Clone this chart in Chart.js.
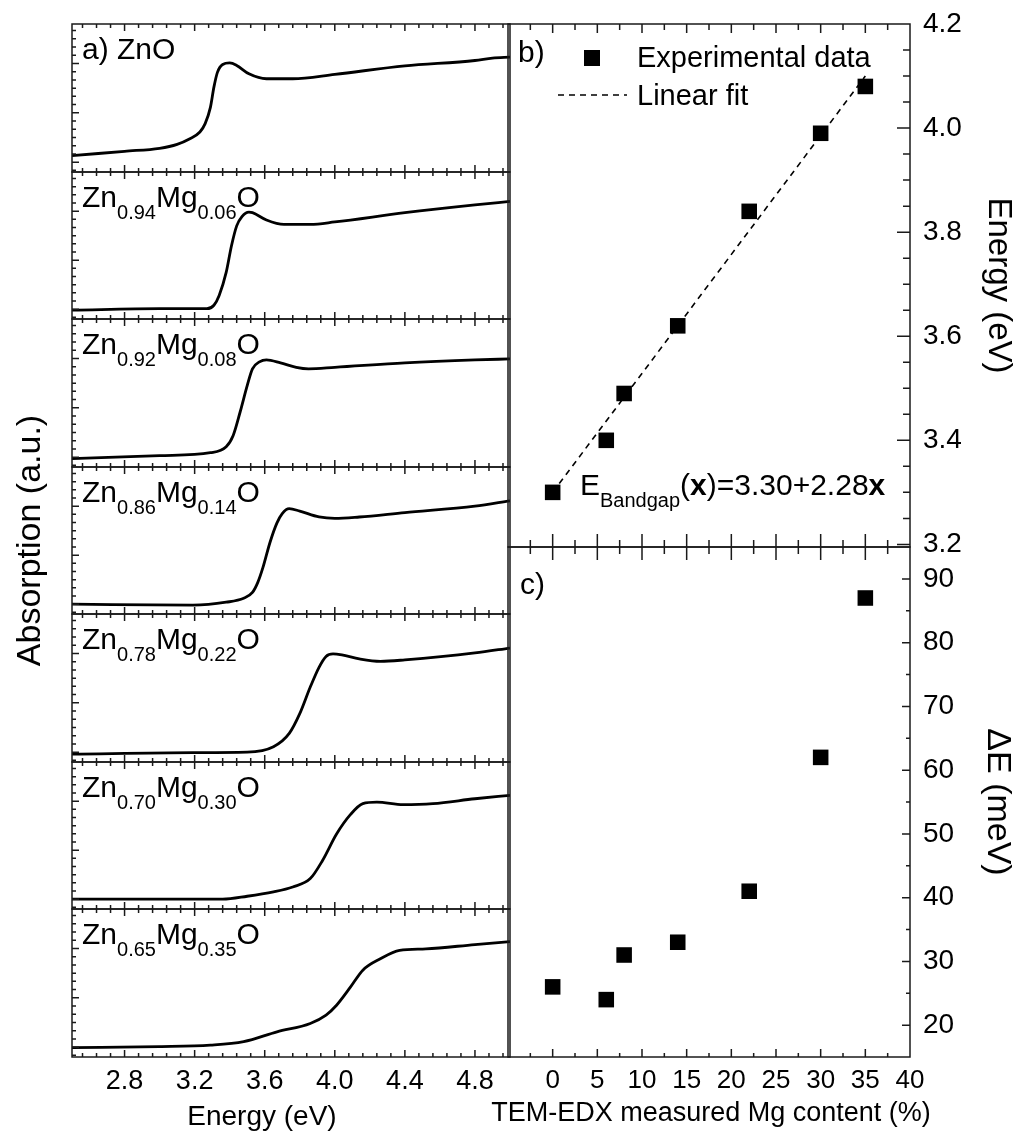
<!DOCTYPE html>
<html>
<head>
<meta charset="utf-8">
<script src="https://cdn.jsdelivr.net/npm/chart.js@4.4.1/dist/chart.umd.min.js"></script>
<style>
  html, body { margin: 0; padding: 0; background: #fff; }
  #wrap { position: relative; width: 1023px; height: 1133px; overflow: hidden; }
  #wrap canvas { position: absolute; }
</style>
</head>
<body>
<div id="wrap"></div>
<script>
// a) absorption spectra: photon energy (eV) and absorption (a.u., one major tick = 1)
const znoE  = [2.50, 2.80, 3.00, 3.10, 3.17, 3.23, 3.26, 3.29, 3.31, 3.33, 3.36, 3.40, 3.44, 3.51, 3.61, 3.76, 4.00, 4.40, 4.80, 4.90, 5.00];
const znoA  = [0.13, 0.22, 0.28, 0.36, 0.47, 0.61, 0.78, 1.11, 1.52, 1.82, 1.98, 2.01, 1.96, 1.79, 1.69, 1.69, 1.78, 1.95, 2.06, 2.11, 2.13];
const zn94E = [2.50, 3.00, 3.27, 3.31, 3.34, 3.38, 3.41, 3.44, 3.47, 3.51, 3.53, 3.61, 3.71, 3.86, 4.00, 4.40, 4.80, 5.00];
const zn94A = [-0.02, 0.01, 0.01, 0.08, 0.28, 0.75, 1.29, 1.70, 1.89, 1.98, 1.97, 1.82, 1.73, 1.73, 1.78, 1.97, 2.13, 2.20];
const zn92E = [2.50, 3.00, 3.29, 3.38, 3.42, 3.46, 3.50, 3.53, 3.57, 3.61, 3.69, 3.78, 3.85, 4.00, 4.40, 4.80, 5.00];
const zn92A = [-0.03, 0.03, 0.09, 0.21, 0.44, 0.92, 1.45, 1.79, 1.93, 1.97, 1.91, 1.82, 1.79, 1.82, 1.91, 1.97, 1.99];
const zn86E = [2.50, 3.19, 3.38, 3.48, 3.53, 3.56, 3.59, 3.63, 3.67, 3.70, 3.74, 3.80, 3.91, 4.00, 4.14, 4.40, 4.80, 5.00];
const zn86A = [0.00, -0.02, 0.04, 0.12, 0.24, 0.44, 0.75, 1.26, 1.66, 1.85, 1.95, 1.90, 1.78, 1.75, 1.78, 1.87, 2.00, 2.11];
const zn78E = [2.50, 3.19, 3.50, 3.65, 3.74, 3.80, 3.86, 3.91, 3.95, 3.99, 4.04, 4.14, 4.26, 4.40, 4.80, 5.00];
const zn78A = [-0.04, -0.01, 0.00, 0.11, 0.38, 0.78, 1.32, 1.72, 1.94, 1.99, 1.97, 1.89, 1.84, 1.87, 2.01, 2.11];
const zn70E = [2.50, 3.36, 3.50, 3.65, 3.76, 3.86, 3.93, 4.01, 4.09, 4.16, 4.24, 4.39, 4.56, 4.80, 5.00];
const zn70A = [0.00, 0.00, 0.06, 0.15, 0.25, 0.42, 0.79, 1.33, 1.73, 1.95, 1.98, 1.93, 1.95, 2.05, 2.12];
const zn65E = [2.50, 3.00, 3.29, 3.48, 3.67, 3.86, 3.95, 4.01, 4.09, 4.16, 4.26, 4.37, 4.52, 4.80, 5.00];
const zn65A = [-0.01, 0.01, 0.04, 0.11, 0.31, 0.48, 0.65, 0.85, 1.22, 1.56, 1.79, 1.96, 1.99, 2.08, 2.14];

// sample names: [text, 0 = normal | 1 = subscript]
const sampleNames = [
  [['a) ZnO', 0]],
  [['Zn', 0], ['0.94', 1], ['Mg', 0], ['0.06', 1], ['O', 0]],
  [['Zn', 0], ['0.92', 1], ['Mg', 0], ['0.08', 1], ['O', 0]],
  [['Zn', 0], ['0.86', 1], ['Mg', 0], ['0.14', 1], ['O', 0]],
  [['Zn', 0], ['0.78', 1], ['Mg', 0], ['0.22', 1], ['O', 0]],
  [['Zn', 0], ['0.70', 1], ['Mg', 0], ['0.30', 1], ['O', 0]],
  [['Zn', 0], ['0.65', 1], ['Mg', 0], ['0.35', 1], ['O', 0]]
];

// b) and c) versus TEM-EDX Mg content (%)
const mgContent = [0, 6, 8, 14, 22, 30, 35];
const bandgap   = [3.30, 3.40, 3.49, 3.62, 3.84, 3.99, 4.08];
const fitMg     = [0, 35];
const fitGap    = [3.30, 4.10];
const deltaE    = [26, 24, 31, 33, 41, 62, 87];

// tick values
const energyTicks = [2.8, 3.2, 3.6, 4.0, 4.4, 4.8];
const absTicks    = [0, 1, 2];
const mgTicks     = [0, 5, 10, 15, 20, 25, 30, 35, 40];
const gapTicks    = [3.2, 3.4, 3.6, 3.8, 4.0, 4.2];
const deltaTicks  = [20, 30, 40, 50, 60, 70, 80, 90];

const FONT = '"Liberation Sans", Arial, Helvetica, sans-serif';
Chart.defaults.font.family = FONT;
Chart.defaults.color = '#000';

const wrap = document.getElementById('wrap');
function makeCanvas(left, top, w, h) {
  const c = document.createElement('canvas');
  c.width = w; c.height = h;
  c.style.left = left + 'px'; c.style.top = top + 'px';
  c.style.width = w + 'px'; c.style.height = h + 'px';
  wrap.appendChild(c);
  return c;
}

function tickValues(scale, sub) {
  const majors = scale.ticks.map(t => t.value);
  if (majors.length < 2) return [];
  const step = (majors[1] - majors[0]) / sub;
  const k0 = Math.ceil((scale.min - majors[0]) / step - 1e-6);
  const k1 = Math.floor((scale.max - majors[0]) / step + 1e-6);
  const out = [];
  for (let k = k0; k <= k1; k++) {
    out.push({ v: majors[0] + k * step, major: ((k % sub) + sub) % sub === 0 });
  }
  return out;
}

function drawParts(ctx, t, ox, oy) {
  const fontFor = s => (s === 2 ? 'bold ' : '') + (s === 1 ? t.sub : t.size) + 'px ' + FONT;
  let w = 0;
  t.parts.forEach(([txt, s]) => { ctx.font = fontFor(s); w += ctx.measureText(txt).width; });
  let x = t.x - ox - (t.align === 'center' ? w / 2 : 0);
  const y = t.y - oy;
  ctx.textAlign = 'left';
  ctx.textBaseline = t.baseline || 'alphabetic';
  t.parts.forEach(([txt, s]) => {
    ctx.font = fontFor(s);
    ctx.fillText(txt, x, y + (s === 1 ? t.drop : 0));
    x += ctx.measureText(txt).width;
  });
}

// frame, inward ticks on chosen sides, in-plot texts and legend
const frameTicks = {
  id: 'frameTicks',
  afterDatasetsDraw(chart, args, o) {
    const { ctx, chartArea: a } = chart;
    const x = chart.scales.x, y = chart.scales.y;
    ctx.save();
    ctx.strokeStyle = '#1a1a1a';
    ctx.lineWidth = 1.5;
    ctx.strokeRect(a.left, a.top, a.right - a.left, a.bottom - a.top);
    ctx.beginPath();
    tickValues(x, o.xSub).forEach(t => {
      const px = x.getPixelForValue(t.v);
      if (px < a.left + 1 || px > a.right - 1) return;
      if (o.sides.includes('t')) { const l = t.major ? o.topMajor : o.topMinor; ctx.moveTo(px, a.top); ctx.lineTo(px, a.top + l); }
      if (o.sides.includes('b')) { const l = t.major ? o.major : o.minor; ctx.moveTo(px, a.bottom); ctx.lineTo(px, a.bottom - l); }
    });
    tickValues(y, o.ySub).forEach(t => {
      const py = y.getPixelForValue(t.v);
      if (py < a.top + 1 || py > a.bottom - 1) return;
      const l = t.major ? o.major : o.minor;
      if (o.sides.includes('l')) { ctx.moveTo(a.left, py); ctx.lineTo(a.left + l, py); }
      if (o.sides.includes('r')) { ctx.moveTo(a.right, py); ctx.lineTo(a.right - l, py); }
    });
    ctx.stroke();
    ctx.fillStyle = '#000';
    (o.texts || []).forEach(t => drawParts(ctx, t, o.origin[0], o.origin[1]));
    if (o.legend) {
      const L = o.legend, ox = o.origin[0], oy = o.origin[1];
      const ds = chart.data.datasets;
      ctx.fillRect(L.marker[0] - ox - 8, L.marker[1] - oy - 8, 16, 16);
      ctx.setLineDash([6, 5]);
      ctx.lineWidth = 1.6;
      ctx.strokeStyle = '#000';
      ctx.beginPath();
      ctx.moveTo(L.line[0] - ox, L.line[2] - oy);
      ctx.lineTo(L.line[1] - ox, L.line[2] - oy);
      ctx.stroke();
      ctx.setLineDash([]);
      ctx.font = L.size + 'px ' + FONT;
      ctx.textAlign = 'left';
      ctx.textBaseline = 'alphabetic';
      ctx.fillText(ds[1].label, L.textX - ox, L.rows[0] - oy);
      ctx.fillText(ds[0].label, L.textX - ox, L.rows[1] - oy);
    }
    ctx.restore();
  }
};

const hideGrid = { display: false, drawTicks: false };
const setTicks = list => scale => { scale.ticks = list.map(v => ({ value: v })); };
// fixed axis box size, no extra padding for labels at the ends
const fixWidth = w => s => { s.width = w; s.paddingTop = 0; s.paddingBottom = 0; };
const fixHeight = h => s => { s.height = h; s.paddingLeft = 0; s.paddingRight = 0; };

// ---------- a) seven stacked spectra ----------
const spectra = [[znoE, znoA], [zn94E, zn94A], [zn92E, zn92A], [zn86E, zn86A], [zn78E, zn78A], [zn70E, zn70A], [zn65E, zn65A]];
const edges = [24, 172, 319, 467, 614, 762, 909, 1057];

spectra.forEach(([E, A], i) => {
  const last = i === spectra.length - 1;
  const mid = i === 3;
  const top = mid ? 0 : edges[i] - 6;
  const padTop = edges[i] - top;
  const h = mid ? 1133 : (last ? 1133 - top : edges[i + 1] + 6 - top);
  const padBottom = mid ? 1133 - edges[i + 1] : (last ? 0 : 6);
  const canvas = makeCanvas(0, top, 520, h);
  const texts = [{ parts: sampleNames[i], x: 82, y: edges[i] + 35, size: 30, sub: 20, drop: 12 }];
  if (last) texts.push({ parts: [['Energy (eV)', 0]], x: 262, y: 1117, size: 28, align: 'center', baseline: 'middle' });
  new Chart(canvas, {
    type: 'line',
    data: {
      datasets: [{
        data: E.map((e, k) => ({ x: e, y: A[k] })),
        borderColor: '#000',
        borderWidth: 2.8,
        pointRadius: 0,
        cubicInterpolationMode: 'monotone',
        fill: false
      }]
    },
    options: {
      responsive: false,
      animation: false,
      layout: { autoPadding: false, padding: { left: 0, right: 10, top: padTop, bottom: padBottom } },
      plugins: {
        legend: { display: false },
        tooltip: { enabled: false },
        frameTicks: { origin: [0, top], sides: 'tbl', major: 7, minor: 4, topMajor: 7, topMinor: 4, xSub: 5, ySub: 6, texts: texts }
      },
      scales: {
        x: {
          type: 'linear', min: 2.5, max: 5.0, display: last,
          afterBuildTicks: setTicks(energyTicks),
          afterFit: fixHeight(last ? 76 : 0),
          grid: hideGrid, border: { display: false },
          ticks: { padding: 8, font: { size: 27 }, callback: v => v.toFixed(1) }
        },
        y: {
          min: -0.2, max: 2.8,
          afterBuildTicks: setTicks(absTicks),
          afterFit: fixWidth(72),
          grid: hideGrid, border: { display: false },
          ticks: { display: false },
          title: { display: mid, text: 'Absorption (a.u.)', font: { size: 34 }, padding: { top: 10, bottom: 0 } }
        }
      }
    },
    plugins: [frameTicks]
  });
});

// ---------- b) band gap vs Mg content ----------
new Chart(makeCanvas(470, 0, 553, 555), {
  type: 'scatter',
  data: {
    datasets: [
      { type: 'line', label: 'Linear fit', data: fitMg.map((m, k) => ({ x: m, y: fitGap[k] })),
        borderColor: '#000', borderWidth: 1.6, borderDash: [6, 5], pointRadius: 0, fill: false },
      { label: 'Experimental data', data: mgContent.map((m, k) => ({ x: m, y: bandgap[k] })),
        pointStyle: 'rect', pointRadius: 11, backgroundColor: '#000', borderWidth: 0 }
    ]
  },
  options: {
    responsive: false,
    animation: false,
    layout: { autoPadding: false, padding: { left: 38, right: 0, top: 24, bottom: 8 } },
    plugins: {
      legend: { display: false },
      tooltip: { enabled: false },
      frameTicks: {
        origin: [470, 0], sides: 'tbr', major: 13, minor: 7, topMajor: 9, topMinor: 6, xSub: 2, ySub: 4,
        texts: [
          { parts: [['b)', 0]], x: 518, y: 62, size: 30 },
          { parts: [['E', 0], ['Bandgap', 1], ['(', 0], ['x', 2], [')=3.30+2.28', 0], ['x', 2]], x: 580, y: 495, size: 30, sub: 20, drop: 12 }
        ],
        legend: { marker: [592, 58], line: [558, 627, 95], textX: 637, rows: [67, 105], size: 29 }
      }
    },
    scales: {
      x: { type: 'linear', min: -5, max: 40, display: false, afterBuildTicks: setTicks(mgTicks), afterFit: fixHeight(0) },
      y: {
        position: 'right', min: 3.195, max: 4.2,
        afterBuildTicks: setTicks(gapTicks),
        afterFit: fixWidth(113),
        grid: hideGrid, border: { display: false },
        ticks: { padding: 13, font: { size: 28 }, callback: v => v.toFixed(1) },
        title: { display: true, text: 'Energy (eV)', font: { size: 33 }, padding: { top: 5, bottom: 0 } }
      }
    }
  },
  plugins: [frameTicks]
});

// ---------- c) delta E vs Mg content ----------
new Chart(makeCanvas(470, 539, 553, 594), {
  type: 'scatter',
  data: {
    datasets: [
      { label: 'ΔE', data: mgContent.map((m, k) => ({ x: m, y: deltaE[k] })),
        pointStyle: 'rect', pointRadius: 11, backgroundColor: '#000', borderWidth: 0 }
    ]
  },
  options: {
    responsive: false,
    animation: false,
    layout: { autoPadding: false, padding: { left: 38, right: 0, top: 8, bottom: 0 } },
    plugins: {
      legend: { display: false },
      tooltip: { enabled: false },
      frameTicks: {
        origin: [470, 539], sides: 'tbr', major: 8, minor: 4, topMajor: 13, topMinor: 7, xSub: 2, ySub: 2,
        texts: [
          { parts: [['c)', 0]], x: 520, y: 594, size: 30 },
          { parts: [['TEM-EDX measured Mg content (%)', 0]], x: 711, y: 1114, size: 27, align: 'center', baseline: 'middle' }
        ]
      }
    },
    scales: {
      x: {
        type: 'linear', min: -5, max: 40,
        afterBuildTicks: setTicks(mgTicks),
        afterFit: fixHeight(76),
        grid: hideGrid, border: { display: false },
        ticks: { padding: 8, font: { size: 26 } }
      },
      y: {
        position: 'right', min: 15, max: 95,
        afterBuildTicks: setTicks(deltaTicks),
        afterFit: fixWidth(113),
        grid: hideGrid, border: { display: false },
        ticks: { padding: 13, font: { size: 28 } },
        title: { display: true, text: 'ΔE (meV)', font: { size: 34 }, padding: { top: 5, bottom: 0 } }
      }
    }
  },
  plugins: [frameTicks]
});
</script>
</body>
</html>
